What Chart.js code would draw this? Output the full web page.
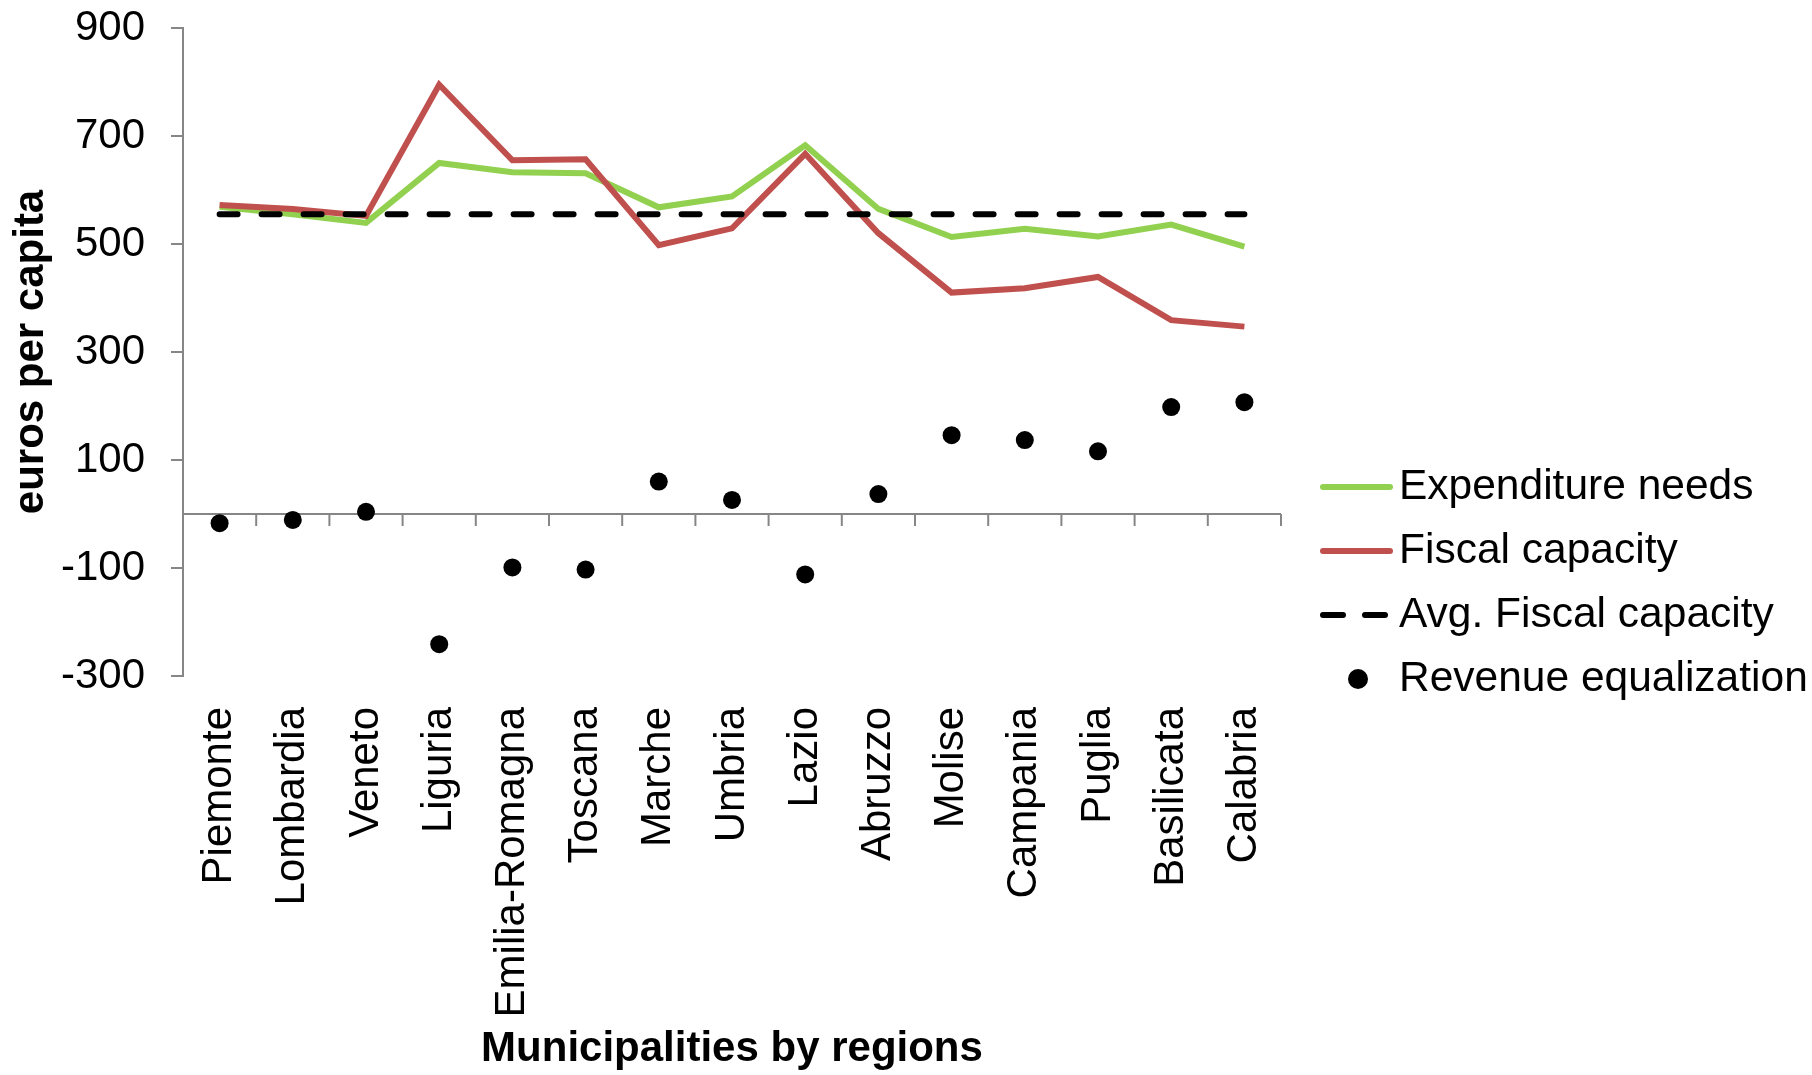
<!DOCTYPE html>
<html>
<head>
<meta charset="utf-8">
<script src="https://cdn.jsdelivr.net/npm/chart.js@4"></script>
<style>
body { margin: 0; background: #fff; }
</style>
</head>
<body>
<canvas id="chart" width="1812" height="1075"></canvas>
<script>
const regions = ["Piemonte","Lombardia","Veneto","Liguria","Emilia-Romagna","Toscana","Marche","Umbria","Lazio","Abruzzo","Molise","Campania","Puglia","Basilicata","Calabria"];
const expenditureNeeds = [569,555,539,650,633,631,568,588,683,565,513,528,514,536,495];
const fiscalCapacity = [572,565,552,795,655,657,498,529,667,520,410,418,439,359,347];
const avgFiscalCapacity = [555,555,555,555,555,555,555,555,555,555,555,555,555,555,555];
const revenueEqualization = [-17,-11,4,-241,-99,-103,60,26,-112,37,146,137,116,198,207];
const yTicks = [-300,-100,100,300,500,700,900];

const FONT = '"Liberation Sans", Arial, sans-serif';
const GRAY = "#868686";

// horizontal axis crossing at zero, with tick marks between categories
const zeroAxis = {
    id: "zeroAxis",
    beforeDatasetsDraw(chart) {
        const ctx = chart.ctx, x = chart.scales.x, y = chart.scales.y;
        const area = chart.chartArea;
        const y0 = y.getPixelForValue(0);
        ctx.save();
        ctx.strokeStyle = GRAY;
        ctx.lineWidth = 2;
        ctx.beginPath();
        ctx.moveTo(area.left, y0);
        ctx.lineTo(area.right, y0);
        for (let i = 1; i <= regions.length; i++) {
            let px = i < regions.length
                ? (x.getPixelForValue(i - 1) + x.getPixelForValue(i)) / 2
                : area.right;
            ctx.moveTo(px, y0);
            ctx.lineTo(px, y0 + 12);
        }
        ctx.stroke();
        ctx.restore();
    }
};

const sideLegend = {
    id: "sideLegend",
    afterDraw(chart) {
        const ctx = chart.ctx;
        const rows = [487, 551, 615, 679];
        ctx.save();
        ctx.font = "42.5px " + FONT;
        ctx.textBaseline = "middle";
        ctx.fillStyle = "#000";
        chart.data.datasets.forEach((ds, i) => {
            const cy = rows[i];
            if (ds.showLine === false) {
                ctx.beginPath();
                ctx.arc(1358, cy, 10, 0, Math.PI * 2);
                ctx.fillStyle = ds.pointBackgroundColor;
                ctx.fill();
            } else {
                ctx.beginPath();
                ctx.strokeStyle = ds.borderColor;
                ctx.lineWidth = ds.borderWidth;
                ctx.lineCap = "round";
                ctx.setLineDash(ds.borderDash ? [20, 22] : []);
                ctx.moveTo(1323, cy);
                ctx.lineTo(1390, cy);
                ctx.stroke();
                ctx.setLineDash([]);
            }
            ctx.fillStyle = "#000";
            ctx.fillText(ds.label, 1399, cy);
        });
        ctx.restore();
    }
};

new Chart(document.getElementById("chart"), {
    type: "line",
    data: {
        labels: regions,
        datasets: [
            {
                label: "Expenditure needs",
                data: expenditureNeeds,
                borderColor: "#92D050",
                borderWidth: 6,
                pointRadius: 0,
                fill: false,
                order: 4
            },
            {
                label: "Fiscal capacity",
                data: fiscalCapacity,
                borderColor: "#C0504D",
                borderWidth: 6,
                pointRadius: 0,
                fill: false,
                order: 3
            },
            {
                label: "Avg. Fiscal capacity",
                data: avgFiscalCapacity,
                borderColor: "#000",
                borderWidth: 6,
                borderDash: [18, 24],
                borderCapStyle: "round",
                pointRadius: 0,
                fill: false,
                order: 2
            },
            {
                label: "Revenue equalization",
                data: revenueEqualization,
                showLine: false,
                pointRadius: 9,
                pointBackgroundColor: "#000",
                pointBorderWidth: 0,
                borderColor: "#000",
                order: 1
            }
        ]
    },
    options: {
        responsive: false,
        animation: false,
        devicePixelRatio: 1,
        layout: { padding: { left: 0, right: 531, top: 28, bottom: 0 } },
        plugins: {
            legend: { display: false },
            tooltip: { enabled: false }
        },
        scales: {
            x: {
                offset: true,
                grid: { display: false, offset: true },
                border: { display: false },
                ticks: {
                    color: "#000",
                    font: { family: FONT, size: 42 },
                    minRotation: 90,
                    maxRotation: 90,
                    padding: 23,
                    autoSkip: false
                },
                title: {
                    display: true,
                    text: "Municipalities by regions",
                    color: "#000",
                    font: { family: FONT, size: 42, weight: "bold" },
                    padding: { top: 4, bottom: 0 }
                },
                afterFit(scale) { scale.height = 399; }
            },
            y: {
                min: -300,
                max: 900,
                afterBuildTicks(scale) { scale.ticks = yTicks.map(v => ({ value: v })); },
                grid: { drawOnChartArea: false, color: GRAY, lineWidth: 2, tickLength: 12 },
                border: { color: GRAY, width: 2 },
                ticks: {
                    color: "#000",
                    font: { family: FONT, size: 42 },
                    padding: 26
                },
                title: {
                    display: true,
                    text: "euros per capita",
                    color: "#000",
                    font: { family: FONT, size: 42, weight: "bold" },
                    padding: { top: 6, bottom: 0 }
                },
                afterFit(scale) {
                    scale.width = 183;
                    scale.paddingTop = 0;
                    scale.paddingBottom = 0;
                }
            }
        }
    },
    plugins: [zeroAxis, sideLegend]
});
</script>
</body>
</html>
